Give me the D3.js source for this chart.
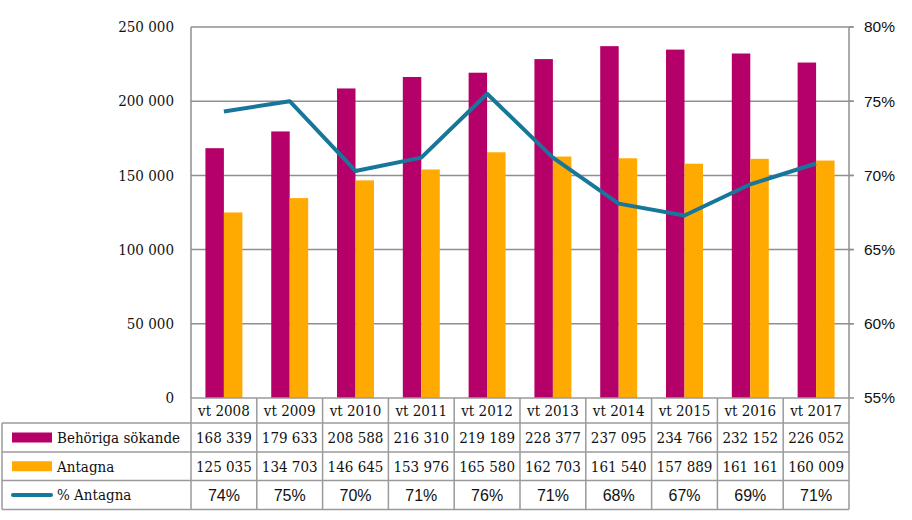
<!DOCTYPE html>
<html><head><meta charset="utf-8">
<script src="https://cdn.jsdelivr.net/npm/d3@7"></script>
<style>body{margin:0;background:#fff}svg{display:block}
.serif{font-family:"DejaVu Serif Condensed","DejaVu Serif",serif;font-stretch:condensed;}
.sans{font-family:"Liberation Sans",Arial,sans-serif;}
</style>
</head><body>
<svg id="c" width="912" height="520"></svg>
<script>
const categories = ["vt 2008","vt 2009","vt 2010","vt 2011","vt 2012","vt 2013","vt 2014","vt 2015","vt 2016","vt 2017"];
const behorigaSokande = [168339,179633,208588,216310,219189,228377,237095,234766,232152,226052];
const antagna = [125035,134703,146645,153976,165580,162703,161540,157889,161161,160009];
const pctAntagna = [74.3,75.0,70.3,71.2,75.5,71.2,68.1,67.3,69.4,70.8];
const pctLabels = ["74%","75%","70%","71%","76%","71%","68%","67%","69%","71%"];
const leftTicks = [0,50000,100000,150000,200000,250000];
const rightTicks = [55,60,65,70,75,80];
const seriesNames = ["Behöriga sökande","Antagna","% Antagna"];

const C_PURPLE = "#b5006a", C_ORANGE = "#ffaa00", C_TEAL = "#17779a", C_GRID = "#8f8f8f", C_TABLE = "#9a9a9a";
const SERIF_SIZE = 15, SANS_SIZE = 15.5, TABLE_PCT_SIZE = 16;

const loc = d3.formatLocale({decimal:",", thousands:" ", grouping:[3], currency:["",""]});
const fmt = loc.format(",d");

const svg = d3.select("#c");
const L = 191, R = 849, T = 27, B = 398;
const x = d3.scaleBand().domain(categories).range([L, R]).padding(0);
const x1 = d3.scaleBand().domain(["s","a"]).range([0, x.bandwidth()]).paddingInner(0).paddingOuter(0.78);
const y = d3.scaleLinear().domain([0,250000]).range([B, T]);
const yR = d3.scaleLinear().domain([55,80]).range([B, T]);

// gridlines
svg.append("g").selectAll("line").data(leftTicks.filter(d=>d>0)).join("line")
  .attr("x1", L).attr("x2", R + 4).attr("y1", d=>y(d)).attr("y2", d=>y(d))
  .attr("stroke", C_GRID).attr("stroke-width", 1.5);

// left axis labels
svg.append("g").selectAll("text").data(leftTicks).join("text").attr("class","serif")
  .attr("x", 174).attr("y", d=>y(d)).attr("dy","0.35em").attr("text-anchor","end")
  .attr("font-size", SERIF_SIZE).attr("fill","#111").text(d=>fmt(d));

// right axis labels
svg.append("g").selectAll("text").data(rightTicks).join("text").attr("class","sans")
  .attr("x", 864).attr("y", d=>yR(d)).attr("dy","0.35em").attr("text-anchor","start")
  .attr("font-size", SANS_SIZE).attr("fill","#111").text(d=>d+"%");
svg.append("g").selectAll("line").data(rightTicks).join("line")
  .attr("x1", R).attr("x2", R+5).attr("y1", d=>yR(d)).attr("y2", d=>yR(d))
  .attr("stroke", C_GRID).attr("stroke-width", 1.5);

// bars
const g = svg.append("g");
g.selectAll("rect.s").data(categories).join("rect").attr("class","s")
  .attr("x", (d)=>x(d)+x1("s")).attr("width", x1.bandwidth())
  .attr("y", (d,i)=>y(behorigaSokande[i])).attr("height",(d,i)=>B - y(behorigaSokande[i]))
  .attr("fill", C_PURPLE);
g.selectAll("rect.a").data(categories).join("rect").attr("class","a")
  .attr("x", (d)=>x(d)+x1("a")).attr("width", x1.bandwidth())
  .attr("y", (d,i)=>y(antagna[i])).attr("height",(d,i)=>B - y(antagna[i]))
  .attr("fill", C_ORANGE);

// axes lines
svg.append("line").attr("x1",L).attr("x2",L).attr("y1",T).attr("y2",B).attr("stroke",C_GRID).attr("stroke-width",1.5);
svg.append("line").attr("x1",R).attr("x2",R).attr("y1",T).attr("y2",B).attr("stroke",C_GRID).attr("stroke-width",1.5);

// line
const line = d3.line().x((d,i)=>x(categories[i]) + x.bandwidth()/2).y(d=>yR(d));
svg.append("path").datum(pctAntagna).attr("d", line).attr("fill","none")
  .attr("stroke", C_TEAL).attr("stroke-width", 4).attr("stroke-linejoin","round");

// table
const rowY = [398, 423, 452, 480.5, 509.5];
const tableL = 2;
const t = svg.append("g");
const colEdges = categories.map(c=>x(c)).concat([R]);
t.append("line").attr("x1",L).attr("x2",R).attr("y1",rowY[0]).attr("y2",rowY[0]).attr("stroke",C_TABLE).attr("stroke-width",1.5);
rowY.slice(1).forEach(yy=>{
  t.append("line").attr("x1",tableL).attr("x2",R).attr("y1",yy).attr("y2",yy).attr("stroke",C_TABLE).attr("stroke-width",1.5);
});
colEdges.forEach(xx=>{
  t.append("line").attr("x1",xx).attr("x2",xx).attr("y1",rowY[0]).attr("y2",rowY[4]).attr("stroke",C_TABLE).attr("stroke-width",1.5);
});
t.append("line").attr("x1",tableL).attr("x2",tableL).attr("y1",rowY[1]).attr("y2",rowY[4]).attr("stroke",C_TABLE).attr("stroke-width",1.5);

const midY = i => (rowY[i] + rowY[i+1]) / 2;
const cx = c => x(c) + x.bandwidth()/2;
t.selectAll("text.h").data(categories).join("text").attr("class","serif")
  .attr("x", cx).attr("y", midY(0)).attr("dy","0.35em").attr("text-anchor","middle")
  .attr("font-size", SERIF_SIZE).attr("fill","#111").text(d=>d);
t.selectAll("text.s").data(categories).join("text").attr("class","serif")
  .attr("x", cx).attr("y", midY(1)).attr("dy","0.35em").attr("text-anchor","middle")
  .attr("font-size", SERIF_SIZE).attr("fill","#111").text((d,i)=>fmt(behorigaSokande[i]));
t.selectAll("text.a").data(categories).join("text").attr("class","serif")
  .attr("x", cx).attr("y", midY(2)).attr("dy","0.35em").attr("text-anchor","middle")
  .attr("font-size", SERIF_SIZE).attr("fill","#111").text((d,i)=>fmt(antagna[i]));
t.selectAll("text.p").data(categories).join("text").attr("class","sans")
  .attr("x", cx).attr("y", midY(3)).attr("dy","0.35em").attr("text-anchor","middle")
  .attr("font-size", TABLE_PCT_SIZE).attr("fill","#111").text((d,i)=>pctLabels[i]);

// legend keys in table
t.append("rect").attr("x",12).attr("y",midY(1)-5).attr("width",40).attr("height",10).attr("fill",C_PURPLE);
t.append("rect").attr("x",12).attr("y",midY(2)-5).attr("width",40).attr("height",10).attr("fill",C_ORANGE);
t.append("line").attr("x1",13).attr("x2",51).attr("y1",midY(3)).attr("y2",midY(3)).attr("stroke",C_TEAL).attr("stroke-width",4).attr("stroke-linecap","round");
seriesNames.forEach((n,i)=>{
  t.append("text").attr("class","serif").attr("x",57).attr("y",midY(i+1)).attr("dy","0.35em")
   .attr("font-size", SERIF_SIZE).attr("fill","#111").text(n);
});
</script>
</body></html>
